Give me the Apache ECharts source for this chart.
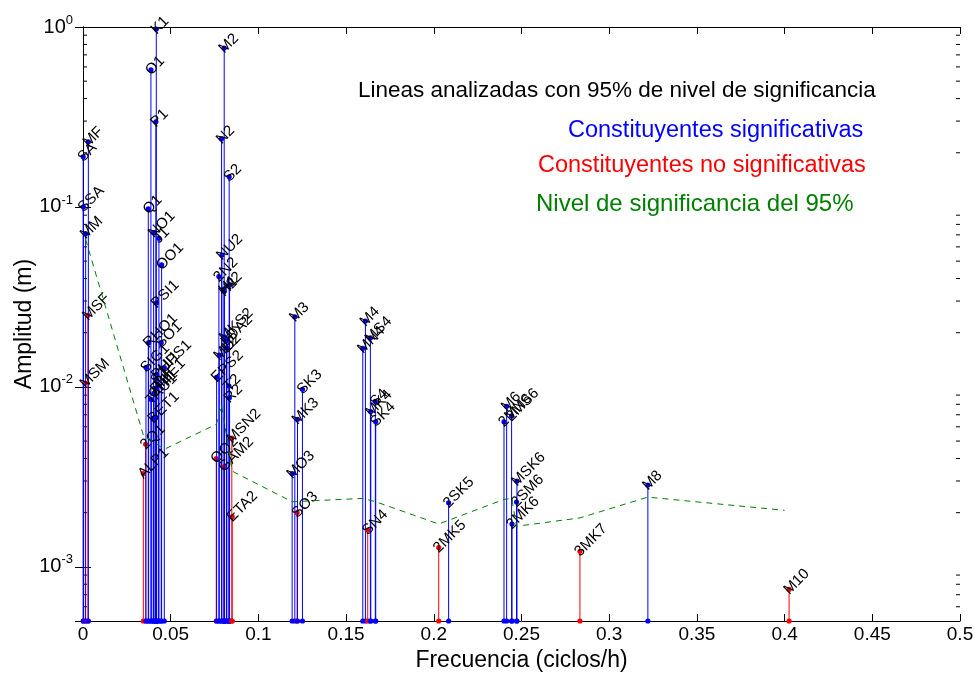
<!DOCTYPE html>
<html>
<head>
    <meta charset="utf-8">
    <title>Lineas analizadas</title>
    <script src="https://cdn.jsdelivr.net/npm/echarts@6/dist/echarts.min.js"></script>
    <style type="text/css">
        * {
            margin: 0px;
            padding: 0px;
        }

        #chart {
            width: 975px;
            height: 674px;
            background: #fff;
        }
    </style>
</head>
<body>
<div id="chart"></div>
<script type="text/javascript">
    // constituyentes: nombre, frecuencia (ciclos/h), amplitud (m), significativa (1) o no (0)
    var names = ['SA', 'SSA', 'MSM', 'MM', 'MSF', 'MF',
        'ALP1', '2Q1', 'SIG1', 'Q1', 'RHO1', 'O1', 'TAU1', 'BET1', 'NO1', 'CHI1', 'PI1', 'P1', 'S1', 'K1',
        'PSI1', 'PHI1', 'THE1', 'J1', 'SO1', 'OO1', 'UPS1',
        'OQ2', 'EPS2', '2N2', 'MU2', 'N2', 'NU2', 'GAM2', 'H1', 'M2', 'H2', 'MKS2', 'LDA2', 'L2', 'T2', 'S2',
        'R2', 'K2', 'MSN2', 'ETA2',
        'MO3', 'M3', 'SO3', 'MK3', 'SK3',
        'MN4', 'M4', 'SN4', 'MS4', 'MK4', 'S4', 'SK4',
        '2MK5', '2SK5',
        '2MN6', 'M6', '2MS6', '2MK6', '2SM6', 'MSK6',
        '3MK7', 'M8', 'M10'];
    var freqs = [0.0001141, 0.0002282, 0.0013098, 0.0015122, 0.0028219, 0.0030501,
        0.0343966, 0.0357064, 0.0359087, 0.0372185, 0.0374209, 0.0387307, 0.0389588, 0.0400404, 0.0402686,
        0.0404710, 0.0414385, 0.0415526, 0.0416667, 0.0417807,
        0.0418948, 0.0420089, 0.0430905, 0.0432929, 0.0446027, 0.0448308, 0.0463430,
        0.0759749, 0.0761773, 0.0774871, 0.0776895, 0.0789992, 0.0792016, 0.0803973, 0.0804687, 0.0805114,
        0.0805541, 0.0807396, 0.0818212, 0.0820236, 0.0832193, 0.0833333,
        0.0834474, 0.0835615, 0.0848455, 0.0850736,
        0.1192421, 0.1207671, 0.1220640, 0.1222921, 0.1251141,
        0.1595106, 0.1610228, 0.1623326, 0.1638447, 0.1640729, 0.1666667, 0.1668948,
        0.2028035, 0.2084474,
        0.2400221, 0.2415342, 0.2443561, 0.2445843, 0.2471781, 0.2474062,
        0.2833149, 0.3220456, 0.4025570];
    var amps = [0.19, 0.10, 0.0105, 0.071, 0.025, 0.23,
        0.0033, 0.0048, 0.0128, 0.0975, 0.0176, 0.577, 0.0085, 0.0067, 0.072, 0.0092, 0.0098, 0.297, 0.011, 0.975,
        0.0293, 0.0117, 0.0102, 0.067, 0.0176, 0.0476, 0.0128,
        0.0040, 0.0113, 0.041, 0.015, 0.239, 0.054, 0.0036, 0.035, 0.764, 0.034, 0.019, 0.018, 0.0165, 0.0101,
        0.147, 0.0087, 0.037, 0.0052, 0.0019,
        0.0033, 0.0245, 0.0020, 0.0066, 0.0097,
        0.0164, 0.0232, 0.0016, 0.0187, 0.0073, 0.0083, 0.0064,
        0.00128, 0.00227,
        0.0064, 0.0078, 0.0069, 0.00173, 0.00229, 0.0030,
        0.00122, 0.00285, 0.00075];
    var isSig = [1, 1, 0, 1, 0, 1,
        0, 0, 1, 1, 1, 1, 1, 1, 1, 1, 1, 1, 1, 1,
        1, 1, 1, 1, 1, 1, 1,
        0, 1, 1, 1, 1, 1, 0, 1, 1, 1, 1, 1, 1, 1, 1,
        1, 1, 0, 0,
        1, 1, 0, 1, 1,
        1, 1, 0, 1, 1, 1, 1,
        0, 1,
        1, 1, 1, 1, 1, 1,
        0, 1, 0];

    // nivel de significancia del 95%
    var sigFreq = [0.0015, 0.0344, 0.0463, 0.0760, 0.0790, 0.0851, 0.1192, 0.1595, 0.1669, 0.2028,
        0.2400, 0.2444, 0.2472, 0.2833, 0.3220, 0.4000];
    var sigLevel = [0.066, 0.0054, 0.0045, 0.0062, 0.0079, 0.0034, 0.0023, 0.0024, 0.0023, 0.00173,
        0.00237, 0.0024, 0.00168, 0.00187, 0.00244, 0.00206];

    var yMin = 0.0005, yMax = 1;
    var xMin = 0, xMax = 0.5, xStep = 0.05;
    var decades = [0.0001, 0.001, 0.01, 0.1];
    var minorMult = [2, 3, 4, 5, 6, 7, 8, 9];

    var BLUE = '#0000ff', RED = '#ff0000', GREEN = '#008000';
    var FONT = 'Arial, "Liberation Sans", Helvetica, sans-serif';

    var minorVals = [];
    decades.forEach(function (d) {
        minorMult.forEach(function (m) {
            var v = d * m;
            if (v > yMin && v < yMax) minorVals.push(v);
        });
    });

    var stemData = freqs.map(function (f, i) {
        return [f, amps[i]];
    });
    var sigData = sigFreq.map(function (f, i) {
        return [f, sigLevel[i]];
    });

    function logLabel(v) {
        var l = Math.log(v) / Math.LN10;
        var e = Math.round(l);
        if (Math.abs(l - e) > 1e-6) return '';
        return '{b|10}{s|' + e + '}';
    }

    var chart = echarts.init(document.getElementById('chart'));

    var option = {
        animation: false,
        backgroundColor: '#fff',
        textStyle: {fontFamily: FONT},
        grid: {left: 83, right: 15, top: 27, bottom: 53, outerBoundsMode: 'none', containLabel: false},
        xAxis: [{
            type: 'value', min: xMin, max: xMax, interval: xStep,
            name: 'Frecuencia (ciclos/h)', nameLocation: 'middle', nameGap: 28, nameMoveOverlap: false,
            nameTextStyle: {fontSize: 23, color: '#000', fontFamily: FONT},
            axisLine: {lineStyle: {color: '#000', width: 1}},
            axisTick: {inside: true, length: 7, lineStyle: {color: '#000'}},
            axisLabel: {fontSize: 19, color: '#000', margin: 4, fontFamily: FONT},
            splitLine: {show: false}
        }, {
            type: 'value', position: 'top', min: xMin, max: xMax, interval: xStep,
            axisLine: {lineStyle: {color: '#000', width: 1}},
            axisTick: {inside: true, length: 7, lineStyle: {color: '#000'}},
            axisLabel: {show: false},
            splitLine: {show: false}
        }],
        yAxis: [{
            type: 'log', logBase: 10, min: yMin, max: yMax,
            name: 'Amplitud (m)', nameLocation: 'middle', nameGap: 47, nameMoveOverlap: false,
            nameTextStyle: {fontSize: 23, color: '#000', fontFamily: FONT},
            axisLine: {lineStyle: {color: '#000', width: 1}},
            axisTick: {inside: true, length: 8, lineStyle: {color: '#000'}},
            axisLabel: {
                color: '#000', margin: 10, formatter: logLabel,
                rich: {
                    b: {fontSize: 20, color: '#000', fontFamily: FONT},
                    s: {fontSize: 13, color: '#000', fontFamily: FONT, padding: [0, 0, 14, 0]}
                }
            },
            splitLine: {show: false}
        }, {
            type: 'log', logBase: 10, min: yMin, max: yMax, position: 'right',
            axisLine: {lineStyle: {color: '#000', width: 1}},
            axisTick: {inside: true, length: 8, lineStyle: {color: '#000'}},
            axisLabel: {show: false},
            splitLine: {show: false}
        }],
        graphic: [
            {type: 'text', left: 358, top: 79, style: {text: 'Lineas analizadas con 95% de nivel de significancia', fill: '#000', font: '22.5px ' + FONT}},
            {type: 'text', left: 568, top: 119, style: {text: 'Constituyentes significativas', fill: BLUE, font: '23.5px ' + FONT}},
            {type: 'text', left: 538, top: 154, style: {text: 'Constituyentes no significativas', fill: RED, font: '23.5px ' + FONT}},
            {type: 'text', left: 536, top: 192, style: {text: 'Nivel de significancia del 95%', fill: GREEN, font: '24px ' + FONT}}
        ],
        series: [{
            // marcas menores del eje logaritmico
            type: 'custom', silent: true, clip: false, z: 1,
            data: minorVals.map(function (v) { return [xMin, v]; }),
            renderItem: function (params, api) {
                var v = api.value(1);
                var pl = api.coord([xMin, v]);
                var pr = api.coord([xMax, v]);
                return {
                    type: 'group', children: [
                        {type: 'line', shape: {x1: pl[0], y1: pl[1], x2: pl[0] + 4, y2: pl[1]}, style: {stroke: '#000', lineWidth: 1}},
                        {type: 'line', shape: {x1: pr[0], y1: pr[1], x2: pr[0] - 4, y2: pr[1]}, style: {stroke: '#000', lineWidth: 1}}
                    ]
                };
            }
        }, {
            // tallos de cada constituyente
            type: 'custom', silent: true, clip: false, z: 2,
            data: stemData,
            renderItem: function (params, api) {
                var i = params.dataIndex;
                var top = api.coord([api.value(0), api.value(1)]);
                var bot = api.coord([api.value(0), yMin]);
                var c = isSig[i] ? BLUE : RED;
                return {
                    type: 'group', children: [
                        {type: 'line', shape: {x1: bot[0], y1: bot[1], x2: top[0], y2: top[1]}, style: {stroke: c, lineWidth: 1}},
                        {type: 'circle', shape: {cx: top[0], cy: top[1], r: 2.6}, style: {fill: c}},
                        {type: 'circle', shape: {cx: bot[0], cy: bot[1], r: 2.6}, style: {fill: c}},
                        {
                            type: 'text', x: top[0], y: top[1], rotation: Math.PI / 4, z2: 10,
                            style: {
                                text: names[i], x: -4, y: 0, fill: '#000',
                                align: 'left', verticalAlign: 'middle',
                                font: '15px ' + FONT
                            }
                        }
                    ]
                };
            }
        }, {
            name: 'Nivel de significancia del 95%',
            type: 'line', z: 5, data: sigData,
            symbol: 'none', silent: true,
            lineStyle: {color: GREEN, width: 1, type: [6, 5]}
        }]
    };

    chart.setOption(option);
</script>
</body>
</html>
